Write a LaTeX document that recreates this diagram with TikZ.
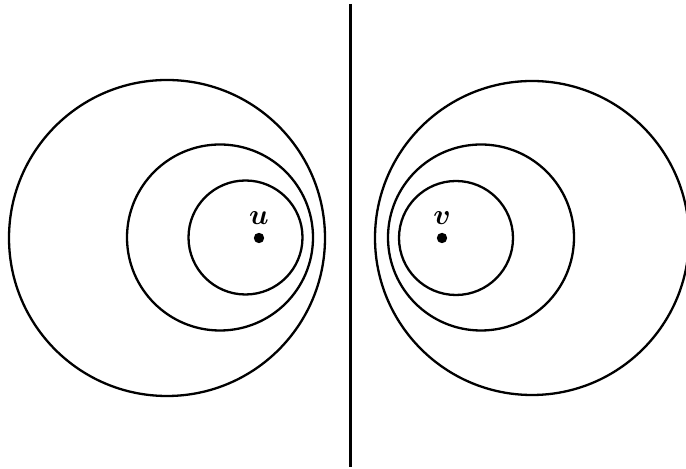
\documentclass[tikz,border=0pt]{standalone}
\usepackage{bm}
\begin{document}
\begin{tikzpicture}[x=0.5pt,y=-0.5pt,
  ring/.style={draw=black,line width=1.15pt},
  pt/.style={circle,fill=black,inner sep=0pt,minimum size=5.2pt},
  lbl/.style={font=\fontsize{14}{16}\selectfont,inner sep=0pt}]
\useasboundingbox (0,0) rectangle (686,469);
% dividing line
\coordinate (top) at (350.5,4);
\coordinate (bot) at (350.5,467);
\draw[line width=1.2pt] (top) -- (bot);
% left circles
\draw[ring] (167,238) circle[radius=158];
\draw[ring] (220,237.5) circle[radius=93];
\draw[ring] (245.5,237.5) circle[radius=57];
% right circles
\draw[ring] (532,238) circle[radius=157];
\draw[ring] (481,237.5) circle[radius=93];
\draw[ring] (456,238) circle[radius=57];
% points
\node[pt] (u) at (259,238) {};
\node[lbl] (ul) at (259,218) {$\bm{u}$};
\node[pt] (v) at (442,238) {};
\node[lbl] (vl) at (442,218) {$\bm{v}$};
\end{tikzpicture}
\end{document}
